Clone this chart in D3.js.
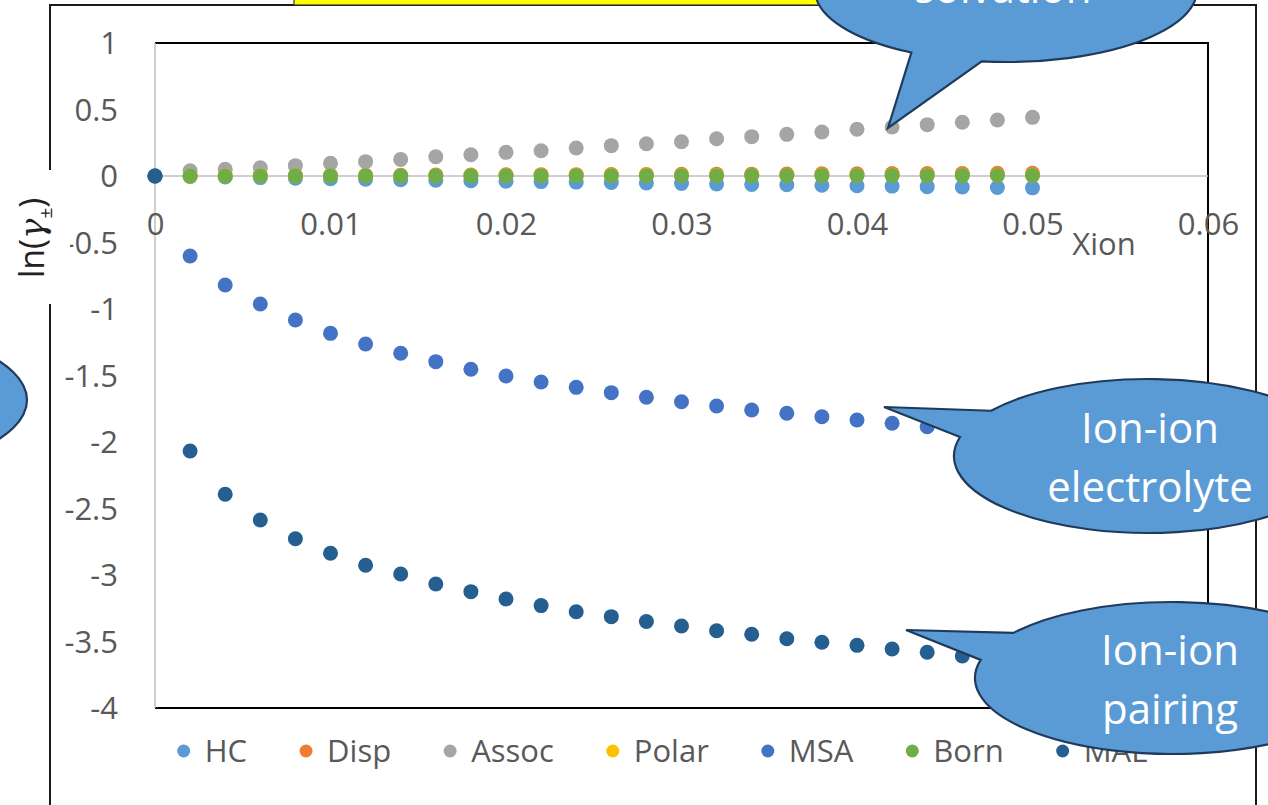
<!DOCTYPE html>
<html>
<head>
<meta charset="utf-8">
<script src="https://cdn.jsdelivr.net/npm/d3@7"></script>
<style>
  html, body { margin: 0; padding: 0; background: #fff; }
  svg { display: block; }
  text { font-family: "Open Sans", "Noto Sans", sans-serif; }
</style>
</head>
<body>
<svg id="chart" width="1268" height="805"></svg>
<script>
// Mole fraction of ions
const xion = [0, 0.002, 0.004, 0.006, 0.008, 0.010, 0.012, 0.014, 0.016, 0.018, 0.020,
  0.022, 0.024, 0.026, 0.028, 0.030, 0.032, 0.034, 0.036, 0.038, 0.040,
  0.042, 0.044, 0.046, 0.048, 0.050];

// ln(gamma±) contributions
const hc = [0, -0.004, -0.008, -0.012, -0.016, -0.020, -0.024, -0.028, -0.032, -0.035, -0.039,
  -0.042, -0.046, -0.049, -0.053, -0.056, -0.060, -0.063, -0.066, -0.070, -0.073,
  -0.076, -0.080, -0.083, -0.086, -0.089];
const disp = [0, 0.001, 0.002, 0.003, 0.004, 0.005, 0.005, 0.006, 0.007, 0.008, 0.009,
  0.010, 0.010, 0.011, 0.012, 0.013, 0.014, 0.014, 0.015, 0.016, 0.017,
  0.018, 0.018, 0.019, 0.020, 0.021];
const assoc = [0, 0.040, 0.050, 0.062, 0.078, 0.095, 0.108, 0.125, 0.145, 0.160, 0.178,
  0.190, 0.211, 0.228, 0.243, 0.258, 0.280, 0.296, 0.313, 0.331, 0.351,
  0.368, 0.386, 0.404, 0.421, 0.441];
const polar = [0, 0.000, 0.001, 0.001, 0.001, 0.002, 0.002, 0.002, 0.002, 0.003, 0.003,
  0.003, 0.003, 0.003, 0.004, 0.004, 0.004, 0.004, 0.004, 0.005, 0.005,
  0.005, 0.005, 0.005, 0.006, 0.006];
const msa = [0, -0.602, -0.820, -0.962, -1.083, -1.183, -1.263, -1.333, -1.396, -1.453, -1.504,
  -1.549, -1.589, -1.629, -1.664, -1.697, -1.729, -1.759, -1.784, -1.810, -1.835,
  -1.859, -1.885, -1.908, -1.930, -1.952];
const born = [0, 0.000, 0.000, 0.000, 0.001, 0.001, 0.001, 0.001, 0.001, 0.001, 0.002,
  0.002, 0.002, 0.002, 0.002, 0.002, 0.002, 0.003, 0.003, 0.003, 0.003,
  0.003, 0.003, 0.003, 0.004, 0.004];
const mal = [0, -2.068, -2.393, -2.586, -2.727, -2.837, -2.927, -2.992, -3.068, -3.125, -3.180,
  -3.230, -3.276, -3.313, -3.350, -3.383, -3.419, -3.446, -3.479, -3.506, -3.529,
  -3.556, -3.581, -3.609, -3.633, -3.657];

const seriesNames = ["HC", "Disp", "Assoc", "Polar", "MSA", "Born", "MAL"];
const seriesValues = [hc, disp, assoc, polar, msa, born, mal];
const seriesColors = ["#5B9BD5", "#ED7D31", "#A5A5A5", "#FFC000", "#4472C4", "#70AD47", "#255E91"];

const xTicks = [0, 0.01, 0.02, 0.03, 0.04, 0.05, 0.06];
const yTicks = [1, 0.5, 0, -0.5, -1, -1.5, -2, -2.5, -3, -3.5, -4];

const calloutLabels = [["solvation"], ["Ion-ion", "electrolyte"], ["Ion-ion", "pairing"]];

const svg = d3.select("#chart");
const W = 1268, H = 805;

// plot area
const plot = { left: 155, right: 1208, top: 43, bottom: 708 };
const x = d3.scaleLinear().domain([0, 0.06]).range([plot.left, plot.right]);
const y = d3.scaleLinear().domain([-4, 1]).range([plot.bottom, plot.top]);

const textColor = "#595959";
const fontSize = 31;

// outer chart frame
svg.append("rect")
  .attr("x", 50).attr("y", 5)
  .attr("width", 1206).attr("height", 860)
  .attr("fill", "#fff").attr("stroke", "#1a1a1a").attr("stroke-width", 2);

// yellow title box at the top edge
svg.append("rect")
  .attr("x", 294).attr("y", -10)
  .attr("width", 560).attr("height", 15)
  .attr("fill", "#FFFF00").attr("stroke", "#333").attr("stroke-width", 1.2);

// plot area border (top, right, bottom)
svg.append("path")
  .attr("d", `M${plot.left},${plot.top}H${plot.right}V${plot.bottom}H${plot.left}`)
  .attr("fill", "none").attr("stroke", "#000").attr("stroke-width", 2);

// value axis line and category axis line through zero
svg.append("line")
  .attr("x1", x(0)).attr("x2", x(0)).attr("y1", plot.top).attr("y2", plot.bottom)
  .attr("stroke", "#BFBFBF").attr("stroke-width", 1.5);
svg.append("line")
  .attr("x1", plot.left).attr("x2", plot.right).attr("y1", y(0)).attr("y2", y(0))
  .attr("stroke", "#BFBFBF").attr("stroke-width", 1.5);

// axes (labels only)
const fmt = d => String(d);
const xAxis = svg.append("g")
  .attr("transform", `translate(0,${y(0)})`)
  .call(d3.axisBottom(x).tickValues(xTicks).tickFormat(fmt).tickSize(0).tickPadding(37));
const yAxis = svg.append("g")
  .attr("transform", `translate(${x(0)},0)`)
  .call(d3.axisLeft(y).tickValues(yTicks).tickFormat(fmt).tickSize(0).tickPadding(37));
[xAxis, yAxis].forEach(g => {
  g.select(".domain").remove();
  g.selectAll("text")
    .attr("fill", textColor)
    .style("font-family", "'Open Sans', sans-serif")
    .style("font-size", fontSize + "px");
});
yAxis.selectAll("text").attr("dy", "0.34em");

// data points
const markerR = 7.5;
seriesValues.forEach((vals, i) => {
  svg.append("g")
    .selectAll("circle")
    .data(vals.map((v, j) => [xion[j], v]))
    .join("circle")
    .attr("cx", d => x(d[0]))
    .attr("cy", d => y(d[1]))
    .attr("r", markerR)
    .attr("fill", seriesColors[i]);
});

// legend
const legend = svg.append("g");
const legendY = 751;
const items = legend.selectAll("g").data(seriesNames).join("g");
items.append("circle").attr("r", 6.5).attr("cy", 0)
  .attr("fill", (d, i) => seriesColors[i]);
items.append("text").attr("x", 21).attr("y", 11)
  .attr("fill", textColor).style("font-size", fontSize + "px").text(d => d);
let cursor = 0;
items.each(function () {
  const g = d3.select(this);
  g.attr("transform", `translate(${cursor},0)`);
  const w = g.select("text").node().getComputedTextLength();
  cursor += 21 + w + 59;
});
const legendWidth = cursor - 59 + 7;
legend.attr("transform", `translate(${662 - legendWidth / 2 + 7},${legendY})`);

// x axis title
svg.append("text")
  .attr("x", 1104).attr("y", 255)
  .attr("text-anchor", "middle")
  .attr("fill", textColor).style("font-size", fontSize + "px")
  .text("Xion");

// y axis title on its own white box
svg.append("rect")
  .attr("x", 0).attr("y", 170).attr("width", 70).attr("height", 134)
  .attr("fill", "#fff");
const yTitle = svg.append("text")
  .attr("transform", "translate(44,238) rotate(-90)")
  .attr("text-anchor", "middle")
  .attr("fill", "#222")
  .style("font-size", "34px");
yTitle.append("tspan").text("ln(");
yTitle.append("tspan").style("font-style", "italic").style("font-family", "'DejaVu Serif', serif").text("γ");
yTitle.append("tspan").attr("dy", 8).style("font-size", "19px").text("±");
yTitle.append("tspan").attr("dy", -8).text(")");

// speech-bubble callouts
const callouts = [
  { cx: 1006, cy: -10, rx: 191, ry: 72, a0: 119.7, a1: 97.3, tip: [888, 128], lines: calloutLabels[0], tx: 1003, ty: 3 },
  { cx: 1148, cy: 456, rx: 194, ry: 77, a0: 216, a1: 194.3, tip: [884, 407], lines: calloutLabels[1], tx: 1150, ty: 443 },
  { cx: 1172, cy: 678, rx: 197, ry: 76, a0: 216.4, a1: 193.8, tip: [906, 630], lines: calloutLabels[2], tx: 1170, ty: 665 },
  { cx: -170, cy: 400, rx: 197, ry: 76, lines: [] }
];
const rad = Math.PI / 180;
callouts.forEach(c => {
  let d;
  if (c.tip) {
    const ax = c.cx + c.rx * Math.cos(c.a0 * rad), ay = c.cy + c.ry * Math.sin(c.a0 * rad);
    const bx = c.cx + c.rx * Math.cos(c.a1 * rad), by = c.cy + c.ry * Math.sin(c.a1 * rad);
    d = `M${ax},${ay}A${c.rx},${c.ry} 0 1 1 ${bx},${by}L${c.tip[0]},${c.tip[1]}Z`;
  } else {
    d = `M${c.cx - c.rx},${c.cy}A${c.rx},${c.ry} 0 1 1 ${c.cx + c.rx},${c.cy}A${c.rx},${c.ry} 0 1 1 ${c.cx - c.rx},${c.cy}Z`;
  }
  svg.append("path").attr("d", d)
    .attr("fill", "#5B9BD5").attr("stroke", "#1F3B5C").attr("stroke-width", 2.2)
    .attr("stroke-linejoin", "miter");
  c.lines.forEach((t, k) => {
    svg.append("text")
      .attr("x", c.tx).attr("y", c.ty + k * 59)
      .attr("text-anchor", "middle")
      .attr("fill", "#fff").style("font-size", "42px")
      .text(t);
  });
});
</script>
</body>
</html>
